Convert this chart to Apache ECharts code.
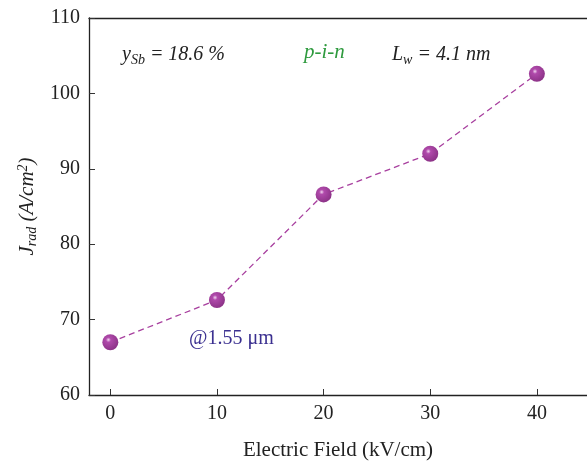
<!DOCTYPE html>
<html><head><meta charset="utf-8">
<script src="https://cdn.jsdelivr.net/npm/echarts@6/dist/echarts.min.js"></script>
<style>html,body{margin:0;padding:0;background:#fff}#c{width:587px;height:464px}</style>
</head><body><div id="c"></div>
<script>
const fields = [0, 10, 20, 30, 40];
const jrad = [67.0, 72.6, 86.6, 92.0, 102.6];
const xTicks = [0, 10, 20, 30, 40];
const yTicks = [60, 70, 80, 90, 100, 110];

const F = '"Liberation Serif", "DejaVu Serif", serif';
const chart = echarts.init(document.getElementById('c'));
const sphere = {
  type: 'radial', x: 0.38, y: 0.35, r: 0.7,
  colorStops: [{offset: 0, color: '#f3d6f1'}, {offset: 0.22, color: '#b04aab'}, {offset: 1, color: '#8a3185'}]
};
chart.setOption({
  animation: false,
  grid: {left: 89, right: 0, top: 18, bottom: 69, outerBoundsMode: 'none', containLabel: false},
  xAxis: [{
    type: 'value', min: -2, max: 44.7, interval: 10,
    axisLine: {onZero: false, lineStyle: {color: '#222', width: 1.3}},
    axisTick: {inside: true, length: 6, lineStyle: {color: '#333'}, customValues: xTicks},
    axisLabel: {color: '#222', fontFamily: F, fontSize: 20, margin: 9, customValues: xTicks},
    splitLine: {show: false},
    name: 'Electric Field (kV/cm)', nameLocation: 'middle', nameGap: 45,
    nameTextStyle: {color: '#222', fontFamily: F, fontSize: 21}
  }, {
    type: 'value', position: 'top', min: -2, max: 44.7,
    axisLine: {show: true, onZero: false, lineStyle: {color: '#222', width: 1.3}},
    axisTick: {show: false}, axisLabel: {show: false}, splitLine: {show: false}
  }],
  yAxis: {
    type: 'value', min: 60, max: 110, interval: 10,
    axisLine: {show: true, onZero: false, lineStyle: {color: '#222', width: 1.3}},
    axisTick: {inside: true, length: 6, lineStyle: {color: '#333'}},
    axisLabel: {color: '#222', fontFamily: F, fontSize: 20, margin: 9},
    splitLine: {show: false},
    name: '{i|J}{sub|rad}{n| (A/cm}{sup|2}{n|)}', nameLocation: 'middle', nameGap: 50,
    nameTextStyle: {
      color: '#222', fontFamily: F, fontSize: 21,
      rich: {
        i: {fontFamily: F, fontSize: 21, fontStyle: 'italic', color: '#222'},
        n: {fontFamily: F, fontSize: 21, fontStyle: 'italic', color: '#222'},
        sub: {fontFamily: F, fontSize: 14, fontStyle: 'italic', color: '#222', verticalAlign: 'bottom', padding: [9, 0, 0, 0]},
        sup: {fontFamily: F, fontSize: 14, fontStyle: 'italic', color: '#222', verticalAlign: 'top', padding: [0, 0, 9, 0]}
      }
    }
  },
  series: [{
    type: 'line',
    data: fields.map((f, i) => [f, jrad[i]]),
    lineStyle: {color: '#a8409f', width: 1.3, type: [6, 4]},
    symbol: 'circle', symbolSize: 16,
    itemStyle: {color: sphere, borderWidth: 0},
    z: 3
  }],
  graphic: [
    {type: 'text', left: 122, top: 45, style: {
      text: '{i|y}{sub|Sb}{i| = 18.6 %}', fontFamily: F,
      rich: {
        i: {fontFamily: F, fontSize: 20, fontStyle: 'italic', fill: '#222'},
        sub: {fontFamily: F, fontSize: 14, fontStyle: 'italic', fill: '#222', verticalAlign: 'bottom', padding: [10, 0, 0, 0]}
      }}},
    {type: 'text', left: 304, top: 42, style: {
      text: 'p-i-n', fontFamily: F, fontSize: 21, fontStyle: 'italic', fill: '#2e9a3e'}},
    {type: 'text', left: 392, top: 45, style: {
      text: '{i|L}{sub|w}{i| = 4.1 nm}', fontFamily: F,
      rich: {
        i: {fontFamily: F, fontSize: 20, fontStyle: 'italic', fill: '#222'},
        sub: {fontFamily: F, fontSize: 14, fontStyle: 'italic', fill: '#222', verticalAlign: 'bottom', padding: [10, 0, 0, 0]}
      }}},
    {type: 'text', left: 189, top: 329, style: {
      text: '@1.55 μm', fontFamily: F, fontSize: 20, fill: '#3b3090'}}
  ]
});
</script></body></html>
